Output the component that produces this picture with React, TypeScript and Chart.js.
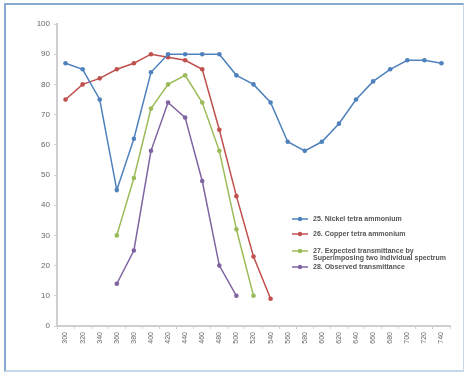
import React, { useEffect, useRef } from "react";
import { Chart, registerables } from "chart.js";

Chart.register(...registerables);

const wavelengths = ["300","320","340","360","380","400","420","440","460","480","500","520","540","560","580","600","620","640","660","680","700","720","740"];
const nickel = [87, 85, 75, 45, 62, 84, 90, 90, 90, 90, 83, 80, 74, 61, 58, 61, 67, 75, 81, 85, 88, 88, 87];
const copper = [75, 80, 82, 85, 87, 90, 89, 88, 85, 65, 43, 23, 9, null, null, null, null, null, null, null, null, null, null];
const expected = [null, null, null, 30, 49, 72, 80, 83, 74, 58, 32, 10, null, null, null, null, null, null, null, null, null, null, null];
const observed = [null, null, null, 14, 25, 58, 74, 69, 48, 20, 10, null, null, null, null, null, null, null, null, null, null, null, null];
const seriesNames = [
  ["25. Nickel tetra ammonium"],
  ["26. Copper tetra ammonium"],
  ["27. Expected transmittance by", "Superimposing two individual spectrum"],
  ["28. Observed transmittance"],
];
const colors = ["#4f81bd", "#c0504d", "#9bbb59", "#8064a2"];
const yTicks = [0, 10, 20, 30, 40, 50, 60, 70, 80, 90, 100];

const legendPlugin = {
  id: "customLegend",
  afterDraw(chart: any) {
    const ctx = chart.ctx;
    const ys = [219, 234, 251, 267];
    ctx.save();
    chart.data.datasets.forEach((ds: any, i: number) => {
      const y = ys[i];
      ctx.strokeStyle = ds.borderColor;
      ctx.lineWidth = 1.5;
      ctx.beginPath();
      ctx.moveTo(292, y);
      ctx.lineTo(308, y);
      ctx.stroke();
      ctx.fillStyle = ds.borderColor;
      ctx.beginPath();
      ctx.arc(300, y, 2.2, 0, Math.PI * 2);
      ctx.fill();
      ctx.fillStyle = "#555";
      ctx.font = "bold 7px 'Liberation Sans'";
      ctx.textBaseline = "middle";
      ctx.textAlign = "left";
      const lines: string[] = ds.legendLines;
      lines.forEach((t, j) => ctx.fillText(t, 313, y + j * 7));
    });
    ctx.restore();
  },
};

export default function App() {
  const ref = useRef<HTMLCanvasElement>(null);
  useEffect(() => {
    const mk = (data: any[], i: number) => ({
      label: seriesNames[i].join(" "),
      legendLines: seriesNames[i],
      data,
      borderColor: colors[i],
      backgroundColor: colors[i],
      borderWidth: 1.5,
      pointRadius: 2.3,
      pointBorderWidth: 0,
      pointHoverRadius: 2.3,
      tension: 0,
      spanGaps: false,
    });
    const chart = new Chart(ref.current!, {
      type: "line",
      data: {
        labels: wavelengths,
        datasets: [mk(nickel, 0), mk(copper, 1), mk(expected, 2), mk(observed, 3)] as any,
      },
      options: {
        animation: false,
        responsive: false,
        layout: { padding: { top: 24, right: 16, left: 0, bottom: 0 } },
        plugins: { legend: { display: false }, tooltip: { enabled: false } },
        scales: {
          x: {
            offset: true,
            grid: { drawOnChartArea: false, drawTicks: true, tickLength: 3, color: "#d0d0d0", offset: true },
            border: { color: "#cfcfcf", width: 2 },
            ticks: {
              minRotation: 90,
              maxRotation: 90,
              autoSkip: false,
              color: "#666",
              font: { family: "Liberation Sans", size: 7 },
              padding: 3,
            },
            afterFit: (s: any) => { s.height = 47; },
          },
          y: {
            min: 0,
            max: 100,
            afterBuildTicks: (s: any) => { s.ticks = yTicks.map((v) => ({ value: v })); },
            grid: { drawOnChartArea: false, drawTicks: true, tickLength: 3, color: "#d0d0d0" },
            border: { color: "#cfcfcf", width: 2 },
            ticks: { color: "#666", font: { family: "Liberation Sans", size: 8 }, padding: 4 },
            afterFit: (s: any) => { s.width = 57; },
          },
        },
      },
      plugins: [legendPlugin],
    });
    return () => chart.destroy();
  }, []);
  return (
    <div style={{ position: "fixed", left: 0, top: 0, width: 466, height: 373, background: "#fff" }}>
      <div style={{ position: "absolute", left: 4, top: 3, width: 457, height: 365, borderLeft: "2px solid #86a9cf", borderTop: "2px solid #86a9cf", borderRight: "1px solid #c5d8ec", borderBottom: "2px solid #c5d8ec" }} />
      <canvas ref={ref} width={466} height={373} style={{ position: "absolute", left: 0, top: 0 }} />
    </div>
  );
}
